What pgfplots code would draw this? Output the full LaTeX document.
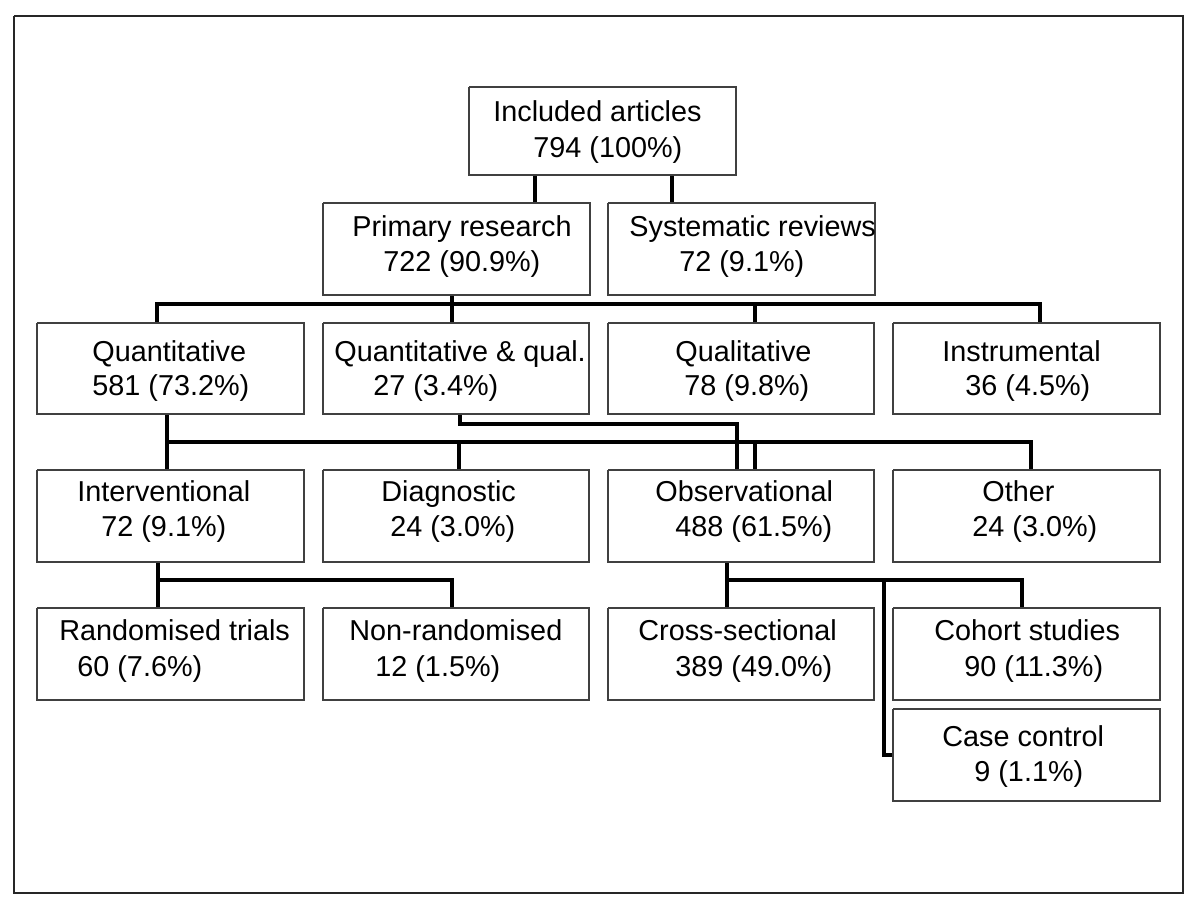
\documentclass[border=0pt]{standalone}
\usepackage{fontspec}
\setmainfont{Liberation Sans}
\usepackage{pgfplots}
\pgfplotsset{compat=1.18}
\newcommand\bx[4]{\addplot[draw=black!75, line width=0.6pt, line join=miter] coordinates {(#1,#3) (#2,#3) (#2,#4) (#1,#4) (#1,#3)};}
\newcommand\tx[3]{\node[anchor=base west, inner sep=0pt, font=\fontsize{14.4}{17}\selectfont] at (axis cs:#1,#2) {#3};}
\begin{document}
\begin{tikzpicture}
\begin{axis}[
  width=600pt, height=454pt, scale only axis,
  xmin=0, xmax=1200, ymin=0, ymax=908, y dir=reverse,
  hide axis, clip=false,
  conn/.style={black, line width=1.75pt, line join=miter},
]
% background
\addplot[fill=white, draw=none] coordinates {(0,0) (1200,0) (1200,908) (0,908)} -- cycle;
% outer frame
\addplot[black!85, line width=1pt] coordinates {(14,16) (1183,16) (1183,893) (14,893) (14,16)};
% connectors
\addplot[conn] coordinates {(535,175) (535,203)};
\addplot[conn] coordinates {(672,175) (672,203)};
\addplot[conn] coordinates {(452,295) (452,323)};
\addplot[conn] coordinates {(157,323) (157,304) (1040,304) (1040,323)};
\addplot[conn] coordinates {(755,304) (755,323)};
\addplot[conn] coordinates {(167,414) (167,470)};
\addplot[conn] coordinates {(167,442) (1031,442) (1031,470)};
\addplot[conn] coordinates {(459,442) (459,470)};
\addplot[conn] coordinates {(755,442) (755,470)};
\addplot[conn] coordinates {(460,414) (460,424) (737,424) (737,470)};
\addplot[conn] coordinates {(158,562) (158,608)};
\addplot[conn] coordinates {(158,580) (452,580) (452,608)};
\addplot[conn] coordinates {(727,562) (727,608)};
\addplot[conn] coordinates {(727,580) (1022,580) (1022,608)};
\addplot[conn] coordinates {(884,580) (884,755) (893,755)};
% boxes
\bx{469}{736}{87}{175}
\bx{323}{590}{203}{295}
\bx{608}{875}{203}{295}
\bx{37}{304}{323}{414}
\bx{323}{589}{323}{414}
\bx{608}{874}{323}{414}
\bx{893}{1160}{323}{414}
\bx{37}{304}{470}{562}
\bx{323}{589}{470}{562}
\bx{608}{874}{470}{562}
\bx{893}{1160}{470}{562}
\bx{37}{304}{608}{700}
\bx{323}{589}{608}{700}
\bx{608}{874}{608}{700}
\bx{893}{1160}{608}{700}
\bx{893}{1160}{709}{801}
% texts
\tx{493}{122}{Included articles}
\tx{533}{158}{794 (100\%)}
\tx{352}{237}{Primary research}
\tx{383}{272}{722 (90.9\%)}
\tx{629}{237}{Systematic reviews}
\tx{679}{272}{72 (9.1\%)}
\tx{92}{362}{Quantitative}
\tx{92}{396}{581 (73.2\%)}
\tx{334}{362}{Quantitative \& qual.}
\tx{373}{396}{27 (3.4\%)}
\tx{675}{362}{Qualitative}
\tx{684}{396}{78 (9.8\%)}
\tx{942}{362}{Instrumental}
\tx{965}{396}{36 (4.5\%)}
\tx{77}{502}{Interventional}
\tx{101}{537}{72 (9.1\%)}
\tx{381}{502}{Diagnostic}
\tx{390}{537}{24 (3.0\%)}
\tx{655}{502}{Observational}
\tx{675}{537}{488 (61.5\%)}
\tx{982}{502}{Other}
\tx{972}{537}{24 (3.0\%)}
\tx{59}{641}{Randomised trials}
\tx{77}{677}{60 (7.6\%)}
\tx{349}{641}{Non-randomised}
\tx{375}{677}{12 (1.5\%)}
\tx{638}{641}{Cross-sectional}
\tx{675}{677}{389 (49.0\%)}
\tx{934}{641}{Cohort studies}
\tx{964}{677}{90 (11.3\%)}
\tx{942}{747}{Case control}
\tx{974}{782}{9 (1.1\%)}
\end{axis}
\end{tikzpicture}
\end{document}
